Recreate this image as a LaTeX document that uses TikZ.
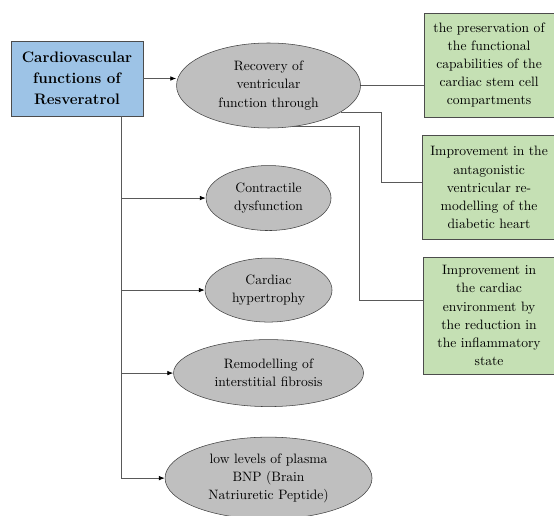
\documentclass[tikz,border=0pt]{standalone}
\usetikzlibrary{positioning, shapes.geometric, arrows.meta}

\definecolor{headblue}{RGB}{157,195,230}
\definecolor{detailgreen}{RGB}{197,224,180}

\begin{document}
\begin{tikzpicture}[
    x=0.75pt, y=-0.75pt,
    node distance=20pt,
    font=\fontsize{10.2}{13.6}\selectfont,
    headbox/.style={rectangle, draw=black!70, fill=headblue, minimum width=99pt,
        minimum height=56.25pt, align=center, inner sep=0pt,
        font=\fontsize{11.4}{15.8}\selectfont\bfseries},
    effect/.style={ellipse, draw=black!75, fill=black!25, align=center,
        inner sep=0pt, text=black},
    detail/.style={rectangle, draw=black!70, fill=detailgreen, align=center,
        inner sep=0pt, text=black},
    link/.style={draw=black!65, line width=0.6pt},
    arrowlink/.style={link, -{Latex[length=4.5pt, width=3.5pt, color=black]}}
]
\useasboundingbox (0,0) rectangle (554,516);

% Main box
\node[headbox] (main) at (77,78.5) {Cardiovascular\\functions of\\Resveratrol};

% Effects (ellipses)
\node[effect, minimum width=138pt, minimum height=63.75pt,
      right=24.75pt of main, yshift=-5.25pt] (e1) {Recovery of\\ventricular\\function through};
\node[effect, minimum width=93.75pt, minimum height=48.75pt,
      below=27.75pt of e1] (e2) {Contractile\\dysfunction};
\node[effect, minimum width=95.25pt, minimum height=48pt,
      below=20.25pt of e2] (e3) {Cardiac\\hypertrophy};
\node[effect, minimum width=142.5pt, minimum height=50.25pt,
      below=12.75pt of e3] (e4) {Remodelling of\\interstitial fibrosis};
\node[effect, minimum width=155.25pt, minimum height=61.5pt,
      below=22.5pt of e4] (e5) {low levels of plasma\\BNP (Brain\\Natriuretic Peptide)};

% Details (green boxes)
\node[detail, minimum width=97.5pt, minimum height=78pt,
      right=47.25pt of e1, yshift=15.4pt] (g1) {the preservation of\\the functional\\capabilities of the\\cardiac stem cell\\compartments};
\node[detail, minimum width=99.75pt, minimum height=78pt,
      below=13.5pt of g1] (g2) {Improvement in the\\antagonistic\\ventricular re-\\modelling of the\\diabetic heart};
\node[detail, minimum width=99pt, minimum height=87.75pt,
      below=12.75pt of g2] (g3) {Improvement in\\the cardiac\\environment by\\the reduction in\\the inflammatory\\state};

% Trunk and branches
\coordinate (trunktop) at ([xshift=-16.5pt]main.south east);
\draw[link] (trunktop) -- (trunktop |- e5.west);
\foreach \e in {e2,e3,e4,e5}
    \draw[arrowlink] (trunktop |- \e.west) -- (\e.west);
\draw[arrowlink] (main.east) -- (main.east -| e1.west);

% Links to details
\coordinate (elbowtwo) at ([xshift=-30.75pt, yshift=3.75pt]g2.west);
\coordinate (elbowthree) at ([xshift=-47.25pt, yshift=11.6pt]g3.west);
\draw[link] (e1.east) -- (e1.east -| g1.west);
\draw[link] (e1.-20) -| (elbowtwo) -- (elbowtwo -| g2.west);
\draw[link] (e1.-59) -| (elbowthree) -- (elbowthree -| g3.west);

\end{tikzpicture}
\end{document}
